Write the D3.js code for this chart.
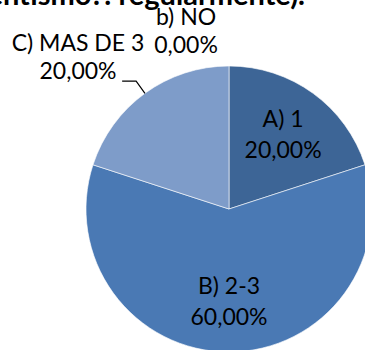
<!DOCTYPE html>
<html>
<head>
<meta charset="utf-8">
<script src="https://cdn.jsdelivr.net/npm/d3@7"></script>
<style>
  html, body { margin: 0; padding: 0; background: #ffffff; }
  svg { display: block; }
  text { font-family: Lato, "Noto Sans", sans-serif; fill: #000; }
</style>
</head>
<body>
<div id="chart"></div>
<script>
// ---- data ----
const categories = ["A) 1", "B) 2-3", "C) MAS DE 3", "b) NO"];
const values = [20, 60, 20, 0];
const percentLabels = ["20,00%", "60,00%", "20,00%", "0,00%"];
const colors = ["#3d6596", "#4a79b4", "#7e9cc9", "#9fb6d8"];
const titleText = "(¿Con qué frecuencia ha faltado por ausentismo?: regularmente).";

const W = 365, H = 350;
const cx = 229, cy = 209, R = 143;

const svg = d3.select("#chart").append("svg").attr("width", W).attr("height", H);

// title (mostly clipped above the view)
svg.append("text")
  .attr("x", 305).attr("y", 5)
  .attr("text-anchor", "end")
  .style("font-weight", "bold")
  .style("font-size", "29px")
  .text(titleText);

const data = categories.map((c, i) => ({ cat: c, value: values[i], pct: percentLabels[i], color: colors[i] }));

const pie = d3.pie().sort(null).value(d => d.value).startAngle(0).endAngle(2 * Math.PI);
const arcs = pie(data);

const arc = d3.arc().innerRadius(0).outerRadius(R);
const labelArc = d3.arc().innerRadius(92).outerRadius(92);
const outerArc = d3.arc().innerRadius(R + 15).outerRadius(R + 15);
const edgeArc = d3.arc().innerRadius(R).outerRadius(R);

const g = svg.append("g").attr("transform", `translate(${cx},${cy})`);

g.selectAll("path.slice")
  .data(arcs.filter(d => d.data.value > 0))
  .join("path")
  .attr("class", "slice")
  .attr("d", arc)
  .attr("fill", d => d.data.color)
  .attr("stroke", "rgba(255,255,255,0.6)")
  .attr("stroke-width", 1);

const fs = 23, lh = 31;

arcs.forEach((d, i) => {
  if (i === 0 || i === 1) {
    const [x, y] = labelArc.centroid(d);
    const t = g.append("text").attr("text-anchor", "middle").style("font-size", fs + "px");
    t.append("tspan").attr("x", x).attr("y", y - lh / 2).attr("dy", "0.35em").text(d.data.cat);
    t.append("tspan").attr("x", x).attr("y", y + lh / 2).attr("dy", "0.35em").text(d.data.pct);
  } else if (i === 2) {
    const e = edgeArc.centroid(d);
    const o = outerArc.centroid(d);
    const endX = o[0] - 14;
    g.append("polyline")
      .attr("points", [e, o, [endX, o[1]]].map(p => p.join(",")).join(" "))
      .attr("fill", "none").attr("stroke", "#000").attr("stroke-width", 1.2);
    const lx = -151, ly = -152;
    const t = g.append("text").attr("text-anchor", "middle").style("font-size", fs + "px");
    t.append("tspan").attr("x", lx).attr("y", ly - 14).attr("dy", "0.35em").text(d.data.cat);
    t.append("tspan").attr("x", lx).attr("y", ly + 14).attr("dy", "0.35em").text(d.data.pct);
  } else {
    const lx = -43, ly = -178;
    const t = g.append("text").attr("text-anchor", "middle").style("font-size", fs + "px");
    t.append("tspan").attr("x", lx).attr("y", ly - 14).attr("dy", "0.35em").text(d.data.cat);
    t.append("tspan").attr("x", lx).attr("y", ly + 14).attr("dy", "0.35em").text(d.data.pct);
  }
});
</script>
</body>
</html>
